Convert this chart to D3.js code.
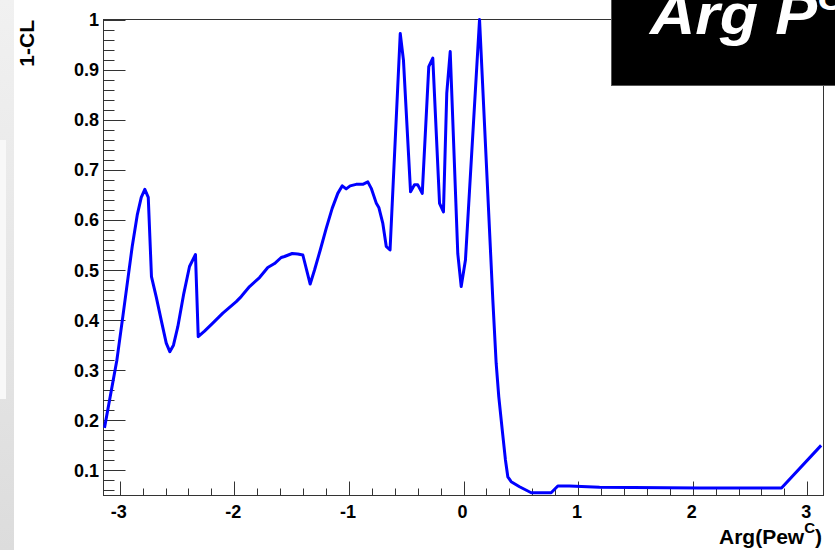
<!DOCTYPE html>
<html>
<head>
<meta charset="utf-8">
<script src="https://cdn.jsdelivr.net/npm/d3@7"></script>
<style>
  html, body { margin: 0; padding: 0; background: #fff; }
  svg { display: block; }
  text { font-family: "Liberation Sans", Arial, Helvetica, sans-serif; font-weight: bold; }
</style>
</head>
<body>
<svg id="chart" width="835" height="550"></svg>
<script>
// ---- data ----
const xValues = [-3.133, -3.025, -2.973, -2.891, -2.847, -2.812, -2.781, -2.751, -2.723, -2.682,
  -2.638, -2.594, -2.563, -2.531, -2.493, -2.441, -2.391, -2.339, -2.315, -2.260,
  -2.188, -2.100, -1.983, -1.940, -1.867, -1.780, -1.708, -1.649, -1.591, -1.562,
  -1.495, -1.446, -1.402, -1.338, -1.300, -1.250, -1.198, -1.146, -1.097, -1.058,
  -1.024, -0.989, -0.937, -0.879, -0.835, -0.805, -0.762, -0.739, -0.704, -0.674,
  -0.641, -0.552, -0.524, -0.462, -0.428, -0.399, -0.360, -0.303, -0.268, -0.209,
  -0.175, -0.146, -0.116, -0.050, -0.020, 0.017, 0.140, 0.256, 0.285, 0.308,
  0.338, 0.366, 0.387, 0.416, 0.489, 0.591, 0.765, 0.823, 0.925, 1.187,
  2.059, 2.775, 3.121];
const yValues = [0.185, 0.320, 0.407, 0.547, 0.610, 0.645, 0.661, 0.645, 0.487, 0.447,
  0.400, 0.354, 0.337, 0.350, 0.387, 0.453, 0.507, 0.531, 0.367, 0.378,
  0.394, 0.414, 0.437, 0.447, 0.467, 0.485, 0.505, 0.513, 0.525, 0.527,
  0.533, 0.532, 0.530, 0.472, 0.500, 0.540, 0.583, 0.623, 0.653, 0.668,
  0.662, 0.668, 0.671, 0.671, 0.676, 0.663, 0.634, 0.625, 0.593, 0.547,
  0.540, 0.972, 0.919, 0.656, 0.670, 0.670, 0.653, 0.906, 0.923, 0.633,
  0.616, 0.853, 0.936, 0.533, 0.467, 0.520, 1.000, 0.440, 0.314, 0.247,
  0.181, 0.121, 0.087, 0.0775, 0.0675, 0.0555, 0.0555, 0.0689, 0.0689, 0.0663,
  0.0649, 0.0649, 0.150];
const xTickValues = [-3, -2, -1, 0, 1, 2, 3];
const xTickLabels = ["-3", "-2", "-1", "0", "1", "2", "3"];
const yTickValues = [0.1, 0.2, 0.3, 0.4, 0.5, 0.6, 0.7, 0.8, 0.9, 1.0];
const yTickLabels = ["0.1", "0.2", "0.3", "0.4", "0.5", "0.6", "0.7", "0.8", "0.9", "1"];
const xDomain = [-Math.PI, Math.PI];
const yDomain = [0.05, 1.0];
const yTitle = "1-CL";
const boxTitle = "Arg P";
const boxSup = "C";

// ---- layout ----
const svg = d3.select("#chart");
const L = 103.5, R = 823.5, T = 19.5, B = 495.5;
const x = d3.scaleLinear().domain(xDomain).range([L, R]);
const y = d3.scaleLinear().domain(yDomain).range([B, T]);

// left gray strip
const defs = svg.append("defs");
const grad = defs.append("linearGradient").attr("id", "strip").attr("x1", 0).attr("y1", 0).attr("x2", 0).attr("y2", 1);
grad.append("stop").attr("offset", "0%").attr("stop-color", "#f1f1f1");
grad.append("stop").attr("offset", "100%").attr("stop-color", "#dcdcdc");
svg.append("rect").attr("x", 0).attr("y", 0).attr("width", 14).attr("height", 550).attr("fill", "url(#strip)");
svg.append("rect").attr("x", 0).attr("y", 140).attr("width", 6).attr("height", 259).attr("fill", "#f8f8f8");

// frame
svg.append("rect").attr("x", L).attr("y", T).attr("width", R - L).attr("height", B - T)
  .attr("fill", "none").attr("stroke", "#333").attr("stroke-width", 1);

const tickColor = "#333";
// y ticks (inside, from left axis)
const yMinor = d3.range(0.06, 1.0001, 0.02);
svg.append("g").selectAll("line").data(yMinor).join("line")
  .attr("x1", L).attr("x2", L + 11)
  .attr("y1", d => Math.round(y(d)) + 0.5).attr("y2", d => Math.round(y(d)) + 0.5)
  .attr("stroke", tickColor).attr("stroke-width", 1);
svg.append("g").selectAll("line").data(yTickValues).join("line")
  .attr("x1", L).attr("x2", L + 22)
  .attr("y1", d => Math.round(y(d)) + 0.5).attr("y2", d => Math.round(y(d)) + 0.5)
  .attr("stroke", tickColor).attr("stroke-width", 1);
svg.append("g").selectAll("text").data(yTickValues).join("text")
  .attr("x", 99).attr("y", d => y(d) + 6.5)
  .attr("text-anchor", "end").attr("font-size", 18).attr("fill", "#000")
  .text((d, i) => yTickLabels[i]);

// x ticks (inside, from bottom axis)
const xMinor = d3.range(-3.0, 3.0001, 0.2);
svg.append("g").selectAll("line").data(xMinor).join("line")
  .attr("x1", d => Math.round(x(d)) + 0.5).attr("x2", d => Math.round(x(d)) + 0.5)
  .attr("y1", B).attr("y2", B - 7)
  .attr("stroke", tickColor).attr("stroke-width", 1);
svg.append("g").selectAll("line").data(xTickValues).join("line")
  .attr("x1", d => Math.round(x(d)) + 0.5).attr("x2", d => Math.round(x(d)) + 0.5)
  .attr("y1", B).attr("y2", B - 14)
  .attr("stroke", tickColor).attr("stroke-width", 1);
svg.append("g").selectAll("text").data(xTickValues).join("text")
  .attr("x", d => x(d) - 1).attr("y", 518)
  .attr("text-anchor", "middle").attr("font-size", 18).attr("fill", "#000")
  .text((d, i) => xTickLabels[i]);

// axis titles
svg.append("text").attr("transform", "translate(34,20) rotate(-90)")
  .attr("text-anchor", "end").attr("font-size", 21).text(yTitle);
const xt = svg.append("text").attr("x", 822).attr("y", 544).attr("text-anchor", "end").attr("font-size", 21);
xt.append("tspan").text("Arg(Pew");
xt.append("tspan").attr("font-size", 15).attr("dy", -11).text("C");
xt.append("tspan").attr("dy", 11).text(")");

// curve
const pts = xValues.map((v, i) => [v, yValues[i]]);
const line = d3.line().x(d => x(d[0])).y(d => y(d[1]));
svg.append("path").datum(pts).attr("d", line)
  .attr("fill", "none").attr("stroke", "#0000ff").attr("stroke-width", 3)
  .attr("stroke-linejoin", "round");

// black title box (clipped at the canvas edge, as in the reference)
svg.append("rect").attr("x", 611.5).attr("y", -2).attr("width", 230).attr("height", 87.5)
  .attr("fill", "#000").attr("stroke", "#555").attr("stroke-width", 1);
const bt = svg.append("text").attr("x", 650).attr("y", 34)
  .attr("font-size", 57).attr("font-style", "italic").attr("fill", "#fff")
  .attr("transform", "translate(650,0) scale(1.1,1) translate(-650,0)");
bt.append("tspan").text(boxTitle);
bt.append("tspan").attr("font-size", 36).attr("dy", -24).text(boxSup);
</script>
</body>
</html>
